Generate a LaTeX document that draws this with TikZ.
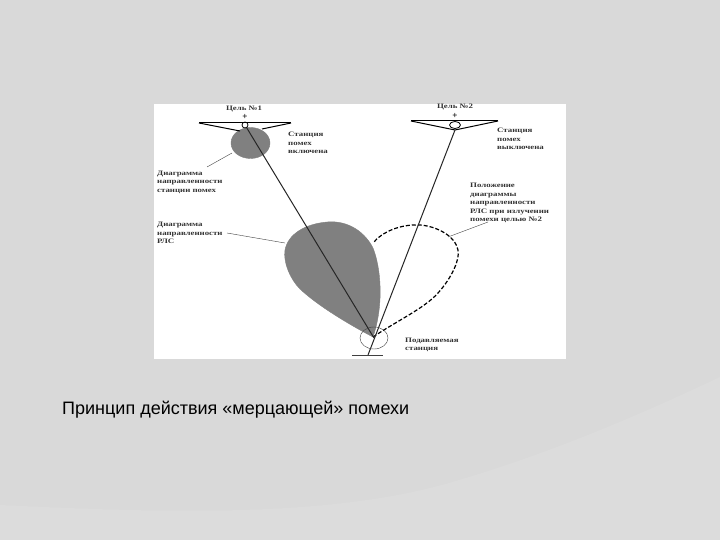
\documentclass[tikz,border=0pt]{standalone}
\usepackage{fontspec}
\setmainfont{Liberation Serif}
\newfontfamily\capfont{Liberation Sans}
\newfontfamily\notefont[FakeStretch=1.3]{Liberation Serif}
\usepackage{tikz}
\usetikzlibrary{shapes.geometric}
\definecolor{slidebg}{HTML}{D9D9D9}
\definecolor{slidelow}{HTML}{DCDCDC}
\tikzstyle{note} = [anchor=west, inner sep=0pt, font=\notefont\fontsize{6.8}{8.5}\selectfont\bfseries, text=black!80, align=left]
\tikzstyle{headnote} = [anchor=center, inner sep=0pt, font=\notefont\fontsize{6.8}{8.5}\selectfont\bfseries, text=black!80]
\tikzstyle{leader} = [thin, black!75]
\tikzstyle{ray} = [line width=1pt, black!85]
\tikzstyle{wing} = [line width=1pt, black]
\tikzstyle{lobe} = [fill=black!50, draw=black!50]
\begin{document}
\begin{tikzpicture}[x=1pt,y=-1pt]
      \useasboundingbox (0,0) rectangle (720,540);
      \fill [slidebg] (0,0) rectangle (720,540);
      \fill [slidelow] (0,540) -- (0,505) .. controls (150,512) and (330,520) .. (459,480) .. controls (560,450) and (650,410) .. (720,377) -- (720,540) -- cycle;
      \fill [white] (154,104) rectangle (566,359);

      \fill [lobe] (250.5,143) ellipse (19.5 and 15.5);
      \fill [lobe] (373,337) .. controls (350,325) and (318,306) .. (300,289)
        .. controls (290,279) and (283,262) .. (285,250)
        .. controls (288,234) and (305,224) .. (327,222)
        .. controls (350,220) and (366,234) .. (373,248)
        .. controls (381,268) and (384,305) .. (373,337) -- cycle;
      \draw [dash pattern=on 4pt off 2pt, line width=1.2pt] (373,337) .. controls (395,322) and (425,308) .. (438,293)
        .. controls (449,281) and (460,262) .. (458,250)
        .. controls (455,235) and (435,226) .. (420,225)
        .. controls (400,224) and (382,232) .. (373,243);

      \node (t1) [headnote] at (244,109) {Цель №1};
      \node (p1) [inner sep=0pt, font=\bfseries\small] at (245,117) {+};
      \node (j1) [draw, circle, minimum size=6pt, inner sep=0pt, line width=0.8pt] at (245,125) {};
      \node (t2) [headnote] at (455,107) {Цель №2};
      \node (p2) [inner sep=0pt, font=\bfseries\small] at (455,116) {+};
      \node (j2) [draw, ellipse, minimum width=11pt, minimum height=7pt, inner sep=0pt, line width=0.8pt] at (455,125) {};
      \node (s0) [draw, circle, minimum size=0pt, inner sep=0pt] at (374,338) {};

      \node (a1) [note] at (288,143) {Станция\\помех\\включена};
      \node (a2) [note] at (497,139) {Станция\\помех\\выключена};
      \node (a3) [note] at (157,182) {Диаграмма\\направленности\\станции помех};
      \node (a4) [note] at (157,233) {Диаграмма\\направленности\\РЛС};
      \node (a5) [note] at (470,203) {Положение\\диаграммы\\направленности\\РЛС при излучении\\помехи целью №2};
      \node (a6) [note] at (405,345) {Подавляемая\\станция};
      \node (cap) [anchor=west, inner sep=0pt, font=\capfont\fontsize{18}{20}\selectfont, text=black] at (62,410) {Принцип действия «мерцающей» помехи};

      \coordinate (w1l) at (199,123);
      \coordinate (w1r) at (291,123);
      \coordinate (w2l) at (411,121);
      \coordinate (w2r) at (498,121);
      \coordinate (b1) at (240,131);
      \coordinate (b1r) at (262,129);
      \coordinate (b2) at (455,130);
      \coordinate (r2) at (368,355);
      \coordinate (m1) at (232,153);
      \coordinate (m2) at (207,167);
      \coordinate (m3) at (227,233);
      \coordinate (m4) at (285,243);
      \coordinate (m5) at (448,237);
      \coordinate (m6) at (488,222);
      \coordinate (g1) at (352,355);
      \coordinate (g2) at (383,355);

      \draw [wing] (w1l) -- (w1r);
      \draw [wing] (w1l) -- (b1);
      \draw [wing] (w1r) -- (b1r);
      \draw [wing] (w2l) -- (w2r);
      \draw [wing] (w2l) -- (b2);
      \draw [wing] (w2r) -- (b2);
      \draw [ray] (j1) -- (s0);
      \draw [ray] (b2) -- (r2);
      \draw [leader] (s0) ellipse (14 and 11);
      \draw [leader] (g1) -- (g2);
      \draw [leader] (m1) -- (m2);
      \draw [leader] (m3) -- (m4);
      \draw [leader] (m5) -- (m6);
    \end{tikzpicture}
\end{document}
